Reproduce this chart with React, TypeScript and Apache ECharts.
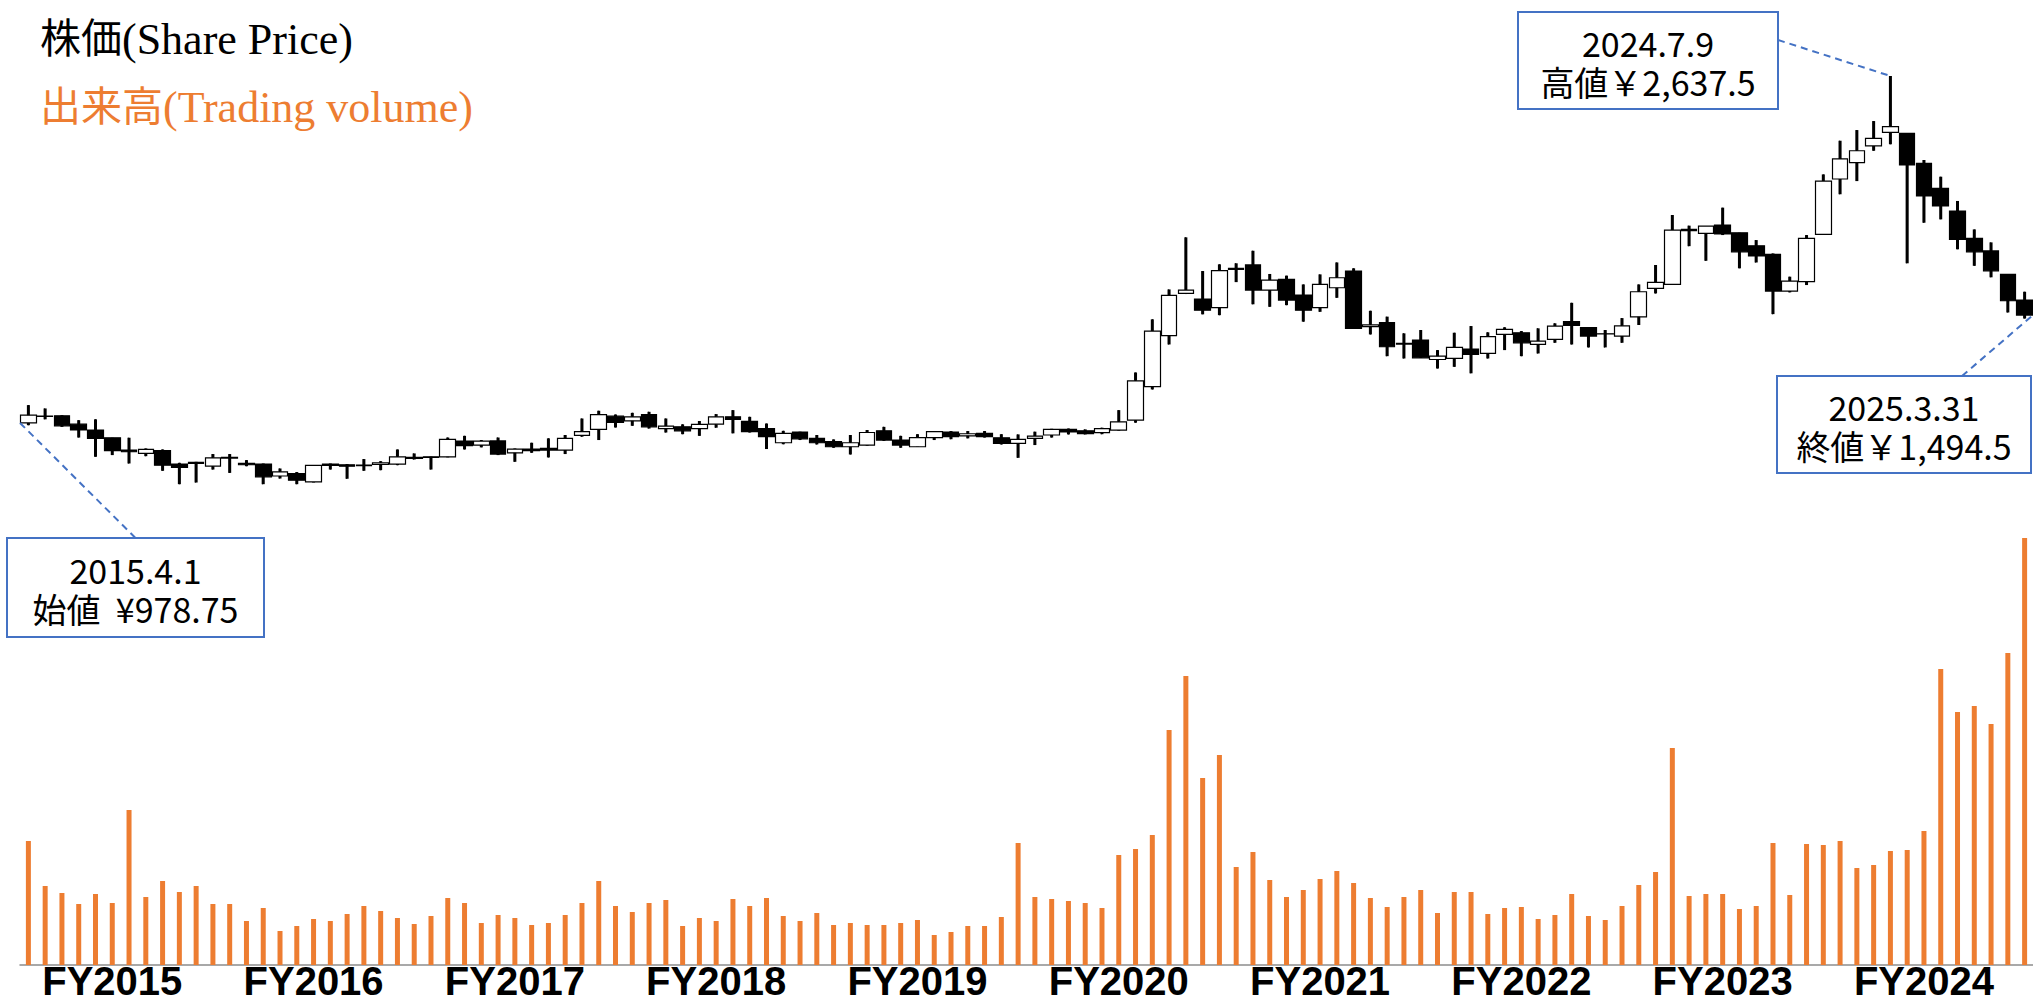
import React, { useEffect, useRef } from "react";
import * as echarts from "echarts";

// Monthly candles, April 2015 (FY2015) to March 2025 (FY2024)
const FY_LABELS = ["FY2015", "FY2016", "FY2017", "FY2018", "FY2019", "FY2020", "FY2021", "FY2022", "FY2023", "FY2024"];
const MONTHS: string[] = [];
for (let y = 0; y < FY_LABELS.length; y++) {
  for (let m = 0; m < 12; m++) {
    const mm = ((m + 3) % 12) + 1;
    const yy = 2015 + y + (m >= 9 ? 1 : 0);
    MONTHS.push(`${yy}.${mm}`);
  }
}

const OPEN = [
  978.75, 1010, 1013, 973, 945, 908, 849, 833, 846, 782,
  790, 772, 814, 785, 782, 725, 737, 697, 776, 779,
  774, 780, 782, 814, 817, 817, 892, 873, 893, 836,
  854, 857, 849, 919, 948, 1011, 989, 1019, 952, 960,
  952, 973, 1008, 986, 952, 884, 935, 905, 889, 865,
  873, 941, 897, 865, 909, 935, 917, 929, 908, 881,
  905, 921, 948, 941, 932, 944, 992, 1152, 1396, 1598,
  1571, 1530, 1713, 1734, 1614, 1665, 1590, 1530, 1625, 1705,
  1439, 1459, 1359, 1375, 1282, 1287, 1332, 1311, 1402, 1410,
  1354, 1378, 1463, 1434, 1405, 1394, 1486, 1622, 1641, 1904,
  1885, 1925, 1888, 1826, 1785, 1609, 1654, 1880, 2145, 2223,
  2303, 2368, 2363, 2220, 2100, 1992, 1861, 1801, 1689, 1566,
];
const CLOSE = [
  1016, 1012, 965, 945, 905, 846, 841, 852, 777, 766,
  785, 812, 811, 779, 721, 745, 705, 776, 782, 772,
  777, 788, 817, 809, 814, 900, 870, 892, 830, 854,
  846, 849, 905, 937, 1019, 981, 1008, 960, 964, 941,
  972, 1008, 996, 937, 913, 929, 903, 884, 865, 884,
  933, 897, 873, 909, 937, 913, 927, 913, 881, 900,
  916, 948, 936, 928, 952, 984, 1180, 1418, 1589, 1614,
  1518, 1707, 1718, 1614, 1662, 1566, 1518, 1641, 1673, 1431,
  1448, 1343, 1356, 1290, 1298, 1340, 1306, 1391, 1426, 1362,
  1370, 1442, 1445, 1394, 1404, 1443, 1606, 1651, 1901, 1898,
  1920, 1882, 1797, 1777, 1609, 1657, 1861, 2135, 2241, 2280,
  2339, 2395, 2212, 2064, 2016, 1856, 1797, 1706, 1563, 1494.5,
];
const LOW = [
  968, 996, 960, 909, 817, 825, 785, 820, 750, 686,
  694, 756, 740, 772, 686, 713, 686, 694, 756, 712,
  750, 753, 777, 804, 756, 814, 852, 862, 825, 793,
  836, 814, 830, 913, 897, 957, 965, 952, 933, 925,
  917, 956, 929, 933, 854, 877, 897, 876, 860, 828,
  870, 893, 860, 864, 897, 901, 905, 909, 876, 812,
  873, 909, 924, 924, 925, 941, 980, 1139, 1354, 1595,
  1498, 1494, 1652, 1546, 1534, 1542, 1463, 1510, 1577, 1431,
  1402, 1298, 1287, 1290, 1239, 1247, 1216, 1287, 1327, 1298,
  1311, 1362, 1354, 1340, 1340, 1362, 1447, 1598, 1641, 1824,
  1754, 1877, 1718, 1746, 1499, 1603, 1638, 1880, 2072, 2135,
  2280, 2311, 1742, 1936, 1952, 1809, 1730, 1675, 1507, 1478,
];
const HIGH = [
  1064, 1048, 1016, 992, 996, 908, 908, 857, 852, 788,
  793, 830, 830, 801, 785, 761, 744, 777, 785, 782,
  806, 796, 852, 833, 818, 909, 917, 897, 909, 857,
  884, 905, 921, 1000, 1037, 1019, 1027, 1032, 1000, 972,
  988, 1021, 1040, 1008, 976, 941, 937, 921, 900, 921,
  945, 960, 917, 925, 940, 940, 940, 940, 925, 924,
  937, 951, 952, 948, 956, 1040, 1220, 1474, 1617, 1866,
  1705, 1737, 1742, 1802, 1691, 1683, 1641, 1689, 1746, 1718,
  1515, 1487, 1407, 1423, 1327, 1410, 1442, 1412, 1436, 1418,
  1431, 1455, 1553, 1434, 1423, 1480, 1641, 1734, 1973, 1922,
  1920, 2008, 1888, 1853, 1789, 1678, 1877, 2167, 2328, 2379,
  2422, 2637.5, 2363, 2236, 2156, 2040, 1904, 1842, 1689, 1606,
];
// Trading volume (relative units)
const VOLUME = [
  124, 79, 72, 61, 71, 62, 155, 68, 84, 73,
  79, 61, 61, 44, 57, 34, 39, 46, 44, 51,
  59, 54, 47, 41, 49, 67, 62, 42, 50, 47,
  40, 42, 50, 62, 84, 59, 53, 62, 65, 39,
  47, 44, 66, 59, 67, 49, 44, 52, 40, 42,
  40, 40, 42, 45, 30, 33, 39, 39, 48, 122,
  68, 66, 64, 62, 57, 110, 116, 130, 235, 289,
  187, 210, 98, 113, 85, 68, 75, 86, 94, 82,
  67, 58, 68, 75, 52, 73, 73, 51, 57, 58,
  46, 50, 71, 49, 45, 59, 80, 93, 217, 69,
  71, 71, 56, 59, 122, 70, 121, 120, 124, 97,
  100, 114, 115, 134, 296, 253, 259, 241, 312, 427,
];

const OPEN_INDEX = 0;
const HIGH_INDEX = 111;
const CLOSE_INDEX = 119;
const BOX_LINES = [
  ["2015.4.1", "始値  ¥978.75"],
  ["2024.7.9", "高値￥2,637.5"],
  ["2025.3.31", "終値￥1,494.5"],
];

const ORANGE = "#ED7D31";
const BLUE = "#4472C4";
const BOX_FONT = "'Noto Sans CJK JP', 'Noto Sans', sans-serif";
const SERIF = "'Liberation Serif', 'Noto Sans CJK JP', serif";

export default function App() {
  const ref = useRef<HTMLDivElement>(null);

  useEffect(() => {
    const chart = echarts.init(ref.current as HTMLDivElement, null, { renderer: "svg" });
    const option: any = {
      animation: false,
      backgroundColor: "#ffffff",
      grid: [
        { left: 20, right: 0, top: 42, height: 502, outerBoundsMode: "none" },
        { left: 20, right: 0, top: 465, bottom: 37, outerBoundsMode: "none" },
      ],
      xAxis: [
        { type: "category", gridIndex: 0, data: MONTHS, boundaryGap: true, show: false },
        {
          type: "category",
          gridIndex: 1,
          data: MONTHS,
          boundaryGap: true,
          axisLine: { show: true, lineStyle: { color: "#8c8c8c", width: 1.5 } },
          axisTick: { show: false },
          splitLine: { show: false },
          axisLabel: {
            interval: (idx: number) => idx % 12 === 5,
            formatter: (_v: string, idx: number) => FY_LABELS[Math.floor(idx / 12)],
            fontSize: 40,
            fontWeight: "bold",
            color: "#000000",
            fontFamily: "'Liberation Sans', Arial, sans-serif",
            lineHeight: 34,
            margin: -1,
          },
        },
      ],
      yAxis: [
        { type: "value", gridIndex: 0, min: 400, max: 2800, show: false },
        { type: "value", gridIndex: 1, min: 0, max: 500, show: false },
      ],
      series: [
        {
          type: "custom",
          name: "wick",
          xAxisIndex: 0,
          yAxisIndex: 0,
          silent: true,
          z: 2,
          data: LOW.map((l, i) => [i, l, HIGH[i]]),
          encode: { x: 0, y: [1, 2] },
          renderItem: (_params: any, api: any) => {
            const lo = api.coord([api.value(0), api.value(1)]);
            const hi = api.coord([api.value(0), api.value(2)]);
            return {
              type: "line",
              shape: { x1: lo[0], y1: lo[1], x2: hi[0], y2: hi[1] },
              style: { stroke: "#000000", lineWidth: 3 },
            };
          },
        },
        {
          type: "candlestick",
          name: "株価",
          xAxisIndex: 0,
          yAxisIndex: 0,
          z: 3,
          barWidth: "96%",
          data: OPEN.map((o, i) => [o, CLOSE[i], LOW[i], HIGH[i]]),
          itemStyle: {
            color: "#ffffff",
            color0: "#000000",
            borderColor: "#000000",
            borderColor0: "#000000",
            borderColorDoji: "#000000",
            borderWidth: 1.2,
          },
        },
        {
          type: "bar",
          name: "出来高",
          xAxisIndex: 1,
          yAxisIndex: 1,
          barWidth: 5,
          data: VOLUME,
          itemStyle: { color: ORANGE },
        },
      ],
    };
    chart.setOption(option);

    const c0 = chart.convertToPixel({ gridIndex: 0 }, [0, OPEN[OPEN_INDEX]]) as number[];
    const c1 = chart.convertToPixel({ gridIndex: 0 }, [1, OPEN[OPEN_INDEX]]) as number[];
    const half = (c1[0] - c0[0]) / 2;
    const pOpen = chart.convertToPixel({ gridIndex: 0 }, [OPEN_INDEX, OPEN[OPEN_INDEX]]) as number[];
    const pHigh = chart.convertToPixel({ gridIndex: 0 }, [HIGH_INDEX, HIGH[HIGH_INDEX]]) as number[];
    const pClose = chart.convertToPixel({ gridIndex: 0 }, [CLOSE_INDEX, CLOSE[CLOSE_INDEX]]) as number[];

    const boxes = [
      { x: 7, y: 538, w: 257, h: 99 },
      { x: 1518, y: 12, w: 260, h: 97 },
      { x: 1777, y: 376, w: 254, h: 97 },
    ];
    const dash = { stroke: BLUE, lineWidth: 2, lineDash: [7, 5], fill: null };

    const legendRich = (color: string) => ({
      a: { fontSize: 41, fontFamily: SERIF, fill: color },
      b: { fontSize: 44, fontFamily: SERIF, fill: color },
    });

    const graphic: any[] = [
      {
        type: "text",
        x: 40,
        y: 39,
        z: 10,
        style: {
          text: "{a|株価}{b|(Share Price)}",
          rich: legendRich("#000000"),
          fill: "#000000",
          align: "left",
          verticalAlign: "middle",
        },
      },
      {
        type: "text",
        x: 40,
        y: 107,
        z: 10,
        style: {
          text: "{a|出来高}{b|(Trading volume)}",
          rich: legendRich(ORANGE),
          fill: ORANGE,
          align: "left",
          verticalAlign: "middle",
        },
      },
      {
        type: "line",
        z: 9,
        shape: { x1: pOpen[0] - half, y1: pOpen[1], x2: boxes[0].x + boxes[0].w / 2, y2: boxes[0].y },
        style: dash,
      },
      {
        type: "line",
        z: 9,
        shape: { x1: boxes[1].x + boxes[1].w, y1: 40, x2: pHigh[0], y2: pHigh[1] },
        style: dash,
      },
      {
        type: "line",
        z: 9,
        shape: { x1: 1962, y1: boxes[2].y, x2: pClose[0] + half, y2: pClose[1] },
        style: dash,
      },
    ];
    boxes.forEach((b, k) => {
      graphic.push({
        type: "rect",
        z: 10,
        shape: { x: b.x, y: b.y, width: b.w, height: b.h },
        style: { fill: "#ffffff", stroke: BLUE, lineWidth: 2 },
      });
      BOX_LINES[k].forEach((line, j) => {
        graphic.push({
          type: "text",
          z: 11,
          x: b.x + b.w / 2,
          y: b.y + b.h / 2 + 1 + (j === 0 ? -19.5 : 19.5),
          style: {
            text: line,
            fontSize: 34,
            lineHeight: 35,
            fontFamily: BOX_FONT,
            fill: "#000000",
            align: "center",
            verticalAlign: "middle",
          },
        });
      });
    });
    chart.setOption({ graphic });

    return () => chart.dispose();
  }, []);

  return (
    <div
      ref={ref}
      style={{ position: "fixed", left: 0, top: 0, width: 2033, height: 1002, background: "#ffffff" }}
    />
  );
}
